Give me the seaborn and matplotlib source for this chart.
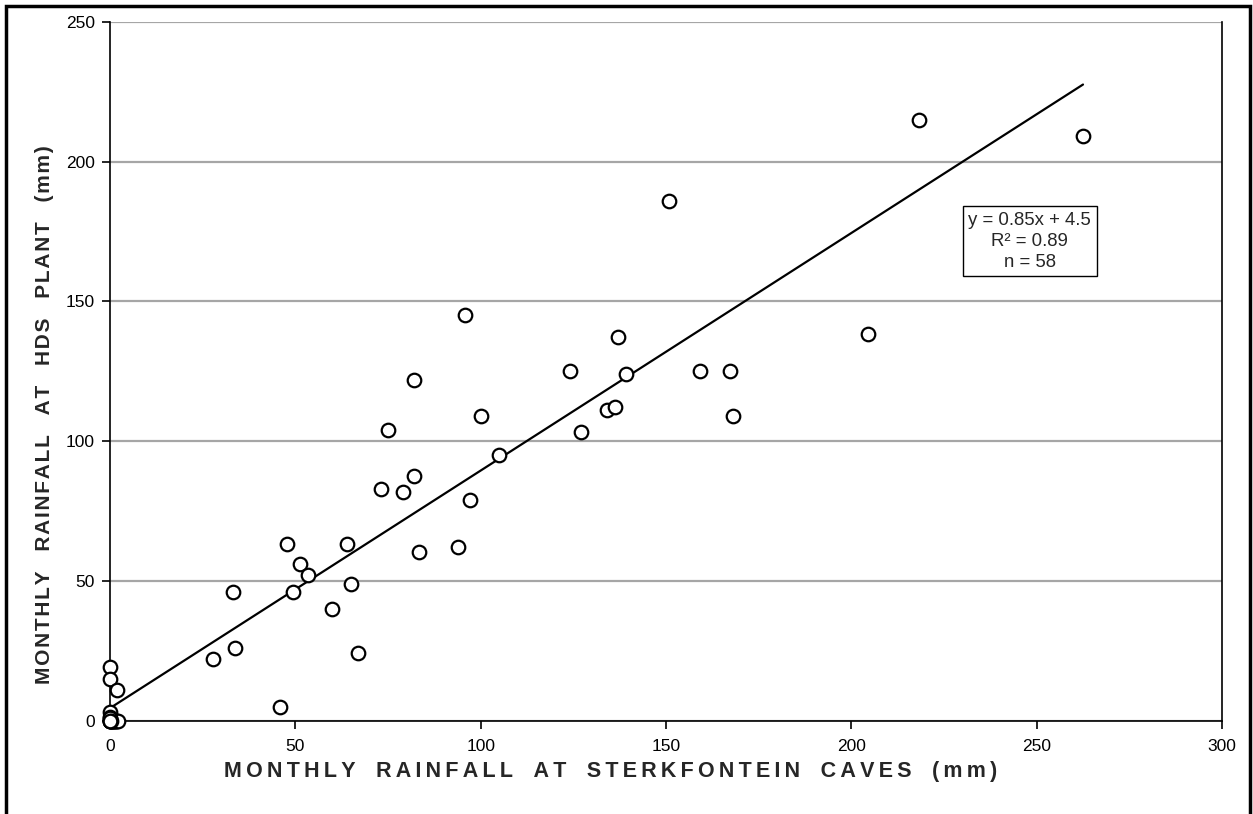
import numpy as np
import pandas as pd
import matplotlib
matplotlib.use("Agg")
import matplotlib.pyplot as plt
import seaborn as sns
from matplotlib.patches import Rectangle

# monthly rainfall (mm)
sterkfontein = [262.5, 218.3, 204.5, 150.8,
                124.1, 137.1, 139.2, 134.2, 136.2, 127.2, 159.2, 167.3, 168.2,
                95.9, 82.0, 100.0, 74.9, 105.0, 82.0,
                47.7, 64.0, 83.4, 51.2, 53.4, 33.3, 49.5, 64.9, 59.9, 33.8, 27.7, 66.9, 45.9,
                73.0, 79.0, 97.0, 94.0,
                0.0, 0.0, 1.8, 0.0, 0.0, 0.0, 0.0, 0.0, 0.3, 0.5, 0.5, 0.8, 1.0,
                1.2, 1.4, 1.6, 2.0, 2.2, 0.0, 0.0, 0.2, 0.0]
hds_plant = [209.2, 215.0, 138.4, 186.1,
             125.3, 137.2, 124.2, 111.3, 112.1, 103.2, 125.3, 125.3, 109.1,
             145.1, 122.0, 109.1, 104.1, 95.0, 87.4,
             63.2, 63.2, 60.2, 56.0, 52.0, 46.0, 46.0, 49.0, 40.0, 26.1, 22.0, 24.1, 4.8,
             83.0, 82.0, 79.0, 62.0,
             19.1, 14.9, 11.0, 3.2, 1.5, 0.0, 0.0, 0.0, 0.0, 0.0, 0.0, 0.0, 0.0,
             0.0, 0.0, 0.0, 0.0, 0.0, 0.5, 1.0, 0.0, 0.0]

slope = 0.85
intercept = 4.5
fit_x = [0.0, 262.5]
fit_y = [slope * v + intercept for v in fit_x]

df = pd.DataFrame({"x": sterkfontein, "y": hds_plant})
fit = pd.DataFrame({"x": fit_x, "y": fit_y})


def spaced(text, sep, gap):
    # axis titles are set with a little letter spacing and wide word gaps
    words = [sep.join(w) for w in text.split(" ")]
    return gap.join(words)


sns.set_style("white")
plt.rcParams["font.family"] = ["Liberation Sans", "DejaVu Sans"]

fig = plt.figure(figsize=(12.53, 8.14), dpi=100)
ax = fig.add_axes([110 / 1253, 1 - 720.7 / 814, 1112 / 1253, 698.7 / 814])

sns.lineplot(data=fit, x="x", y="y", ax=ax, color="black", lw=1.6, zorder=2)
sns.scatterplot(data=df, x="x", y="y", ax=ax, marker="o", s=95,
                facecolor="white", edgecolor="black", linewidth=1.6, zorder=3,
                clip_on=False)

ax.set_xlim(0, 300)
ax.set_ylim(0, 250)
ax.set_xticks(range(0, 301, 50))
ax.set_yticks(range(0, 251, 50))
ax.yaxis.grid(True, color="#a6a6a6", lw=1.6)
ax.set_axisbelow(True)
ax.tick_params(axis="both", direction="out", length=6, width=1.2, labelsize=12.5,
               colors="black", left=True, bottom=True)
ax.tick_params(axis="x", pad=7)
ax.tick_params(axis="y", pad=5)
for side in ["left", "bottom", "right"]:
    ax.spines[side].set_color("black")
    ax.spines[side].set_linewidth(1.2)
ax.spines["top"].set_visible(False)
ax.set_xlabel("")
ax.set_ylabel("")

fig.text(611 / 1253, 1 - 772 / 814,
         spaced("MONTHLY RAINFALL AT STERKFONTEIN CAVES (mm)", "\u2009", "\u2009  \u2009"),
         ha="center", va="center", fontsize=15.5, fontweight="bold")
fig.text(45 / 1253, 1 - 415 / 814,
         spaced("MONTHLY RAINFALL AT HDS PLANT (mm)", "\u200a", "\u2009  \u2009"),
         ha="center", va="center", rotation=90, fontsize=15, fontweight="bold")

ax.text(248.1, 171.5, "y = 0.85x + 4.5\nR² = 0.89\nn = 58", ha="center", va="center",
        fontsize=13.4, linespacing=1.3,
        bbox=dict(boxstyle="square,pad=0.3", facecolor="white", edgecolor="black", lw=1))

fig.patches.append(Rectangle((6 / 1253, -0.02), 1244 / 1253, 1.02 - 6 / 814,
                             transform=fig.transFigure, fill=False,
                             edgecolor="black", lw=2.5))

fig.savefig("out.png", dpi=100)
